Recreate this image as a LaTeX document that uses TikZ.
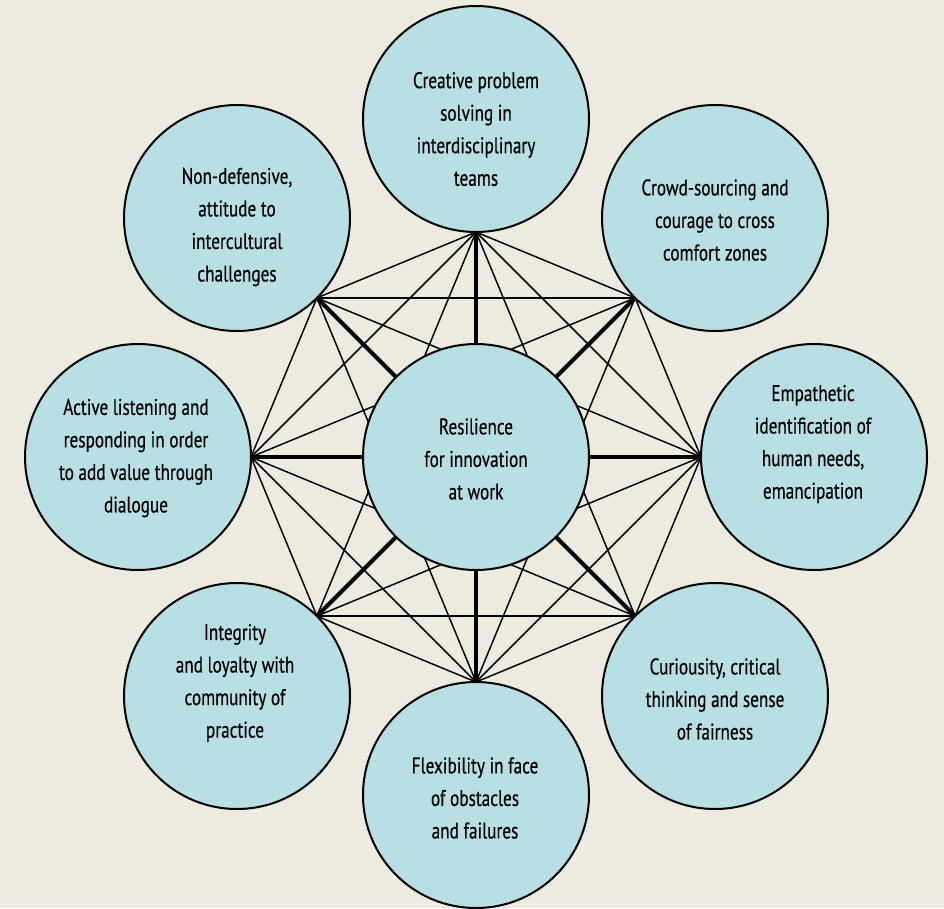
\documentclass[tikz,border=0pt]{standalone}
\usepackage{fontspec}
\setmainfont{PT Sans}[FakeStretch=0.76,FakeBold=0.4]
\usepackage{tikz}
\definecolor{paper}{RGB}{237,234,224}
\definecolor{bubblefill}{RGB}{184,223,227}
\pgfdeclarelayer{backdrop}
\pgfdeclarelayer{links}
\pgfsetlayers{backdrop,links,main}
\tikzset{every picture/.style={line width=0.75pt}}
\tikzset{
	topic/.style={circle, draw=black, line width=1.5pt, fill=bubblefill, minimum size=169.5pt, inner sep=0pt, outer sep=0pt},
	topictext/.style={align=center, inner sep=0pt, font=\fontsize{17}{24.4}\selectfont},
	chord/.style={draw=black, line width=1.1pt},
	spoke/.style={draw=black, line width=3pt}
}

\begin{document}
\begin{tikzpicture}[x=0.75pt,y=0.75pt,yscale=-1,xscale=1]
		\useasboundingbox (0,0) rectangle (944,908);
		
		%Shape: Rectangle (paper)
		\begin{pgfonlayer}{backdrop}
		\fill [paper] (0,0) rectangle (944,908);
		\end{pgfonlayer}
		
		%Shape: Circle (centre)
		\node [topic] (hub) at (476,457) {};
		\node [topictext] (hubText) at (476,459) {Resilience\\for innovation\\at work};
		
		%Shape: Circle (top)
		\node [topic] (creative) at (476,119) {};
		\node [topictext] (creativeText) at (476,129) {Creative problem\\solving in\\interdisciplinary\\teams};
		
		%Shape: Circle (top right)
		\node [topic] (crowd) at (715,218) {};
		\node [topictext] (crowdText) at (715,220) {Crowd-sourcing and\\courage to cross\\comfort zones};
		
		%Shape: Circle (right)
		\node [topic] (empathy) at (814,457) {};
		\node [topictext] (empathyText) at (813,444) {Empathetic\\identification of\\human needs,\\emancipation};
		
		%Shape: Circle (bottom right)
		\node [topic] (curiosity) at (715,696) {};
		\node [topictext] (curiosityText) at (715,699) {Curiousity, critical\\thinking and sense\\of fairness};
		
		%Shape: Circle (bottom)
		\node [topic] (flex) at (476,795) {};
		\node [topictext] (flexText) at (475,798) {Flexibility in face\\of obstacles\\and failures};
		
		%Shape: Circle (bottom left)
		\node [topic] (integrity) at (237,696) {};
		\node [topictext] (integrityText) at (235,683) {Integrity\\and loyalty with\\community of\\practice};
		
		%Shape: Circle (left)
		\node [topic] (listen) at (138,457) {};
		\node [topictext] (listenText) at (136,458) {Active listening and\\responding in order\\to add value through\\dialogue};
		
		%Shape: Circle (top left)
		\node [topic] (nondef) at (237,218) {};
		\node [topictext] (nondefText) at (237,227) {Non-defensive,\\attitude to\\intercultural\\challenges};
		
		%Touching points
		\coordinate (tCre) at (creative.south);
		\coordinate (tCro) at (crowd.south west);
		\coordinate (tEmp) at (empathy.west);
		\coordinate (tCur) at (curiosity.north west);
		\coordinate (tFle) at (flex.north);
		\coordinate (tInt) at (integrity.north east);
		\coordinate (tLis) at (listen.east);
		\coordinate (tNon) at (nondef.south east);
		
		\begin{pgfonlayer}{links}
		%Straight Lines (from top)
		\draw [chord] (tCre) -- (tCro) ;
		\draw [chord] (tCre) -- (tEmp) ;
		\draw [chord] (tCre) -- (tCur) ;
		\draw [chord] (tCre) -- (tFle) ;
		\draw [chord] (tCre) -- (tInt) ;
		\draw [chord] (tCre) -- (tLis) ;
		\draw [chord] (tCre) -- (tNon) ;
		%Straight Lines (from top right)
		\draw [chord] (tCro) -- (tEmp) ;
		\draw [chord] (tCro) -- (tFle) ;
		\draw [chord] (tCro) -- (tInt) ;
		\draw [chord] (tCro) -- (tLis) ;
		\draw [chord] (tCro) -- (tNon) ;
		%Straight Lines (from right)
		\draw [chord] (tEmp) -- (tCur) ;
		\draw [chord] (tEmp) -- (tFle) ;
		\draw [chord] (tEmp) -- (tInt) ;
		\draw [chord] (tEmp) -- (tLis) ;
		\draw [chord] (tEmp) -- (tNon) ;
		%Straight Lines (from bottom right)
		\draw [chord] (tCur) -- (tFle) ;
		\draw [chord] (tCur) -- (tInt) ;
		\draw [chord] (tCur) -- (tLis) ;
		\draw [chord] (tCur) -- (tNon) ;
		%Straight Lines (from bottom)
		\draw [chord] (tFle) -- (tInt) ;
		\draw [chord] (tFle) -- (tLis) ;
		\draw [chord] (tFle) -- (tNon) ;
		%Straight Lines (from bottom left)
		\draw [chord] (tInt) -- (tLis) ;
		%Straight Lines (from left)
		\draw [chord] (tLis) -- (tNon) ;
		
		%Straight Lines (spokes)
		\draw [spoke] (tCre) -- (hub) ;
		\draw [spoke] (tCro) -- (hub) ;
		\draw [spoke] (tEmp) -- (hub) ;
		\draw [spoke] (tCur) -- (hub) ;
		\draw [spoke] (tFle) -- (hub) ;
		\draw [spoke] (tInt) -- (hub) ;
		\draw [spoke] (tLis) -- (hub) ;
		\draw [spoke] (tNon) -- (hub) ;
		\end{pgfonlayer}
		
\end{tikzpicture}
\end{document}
